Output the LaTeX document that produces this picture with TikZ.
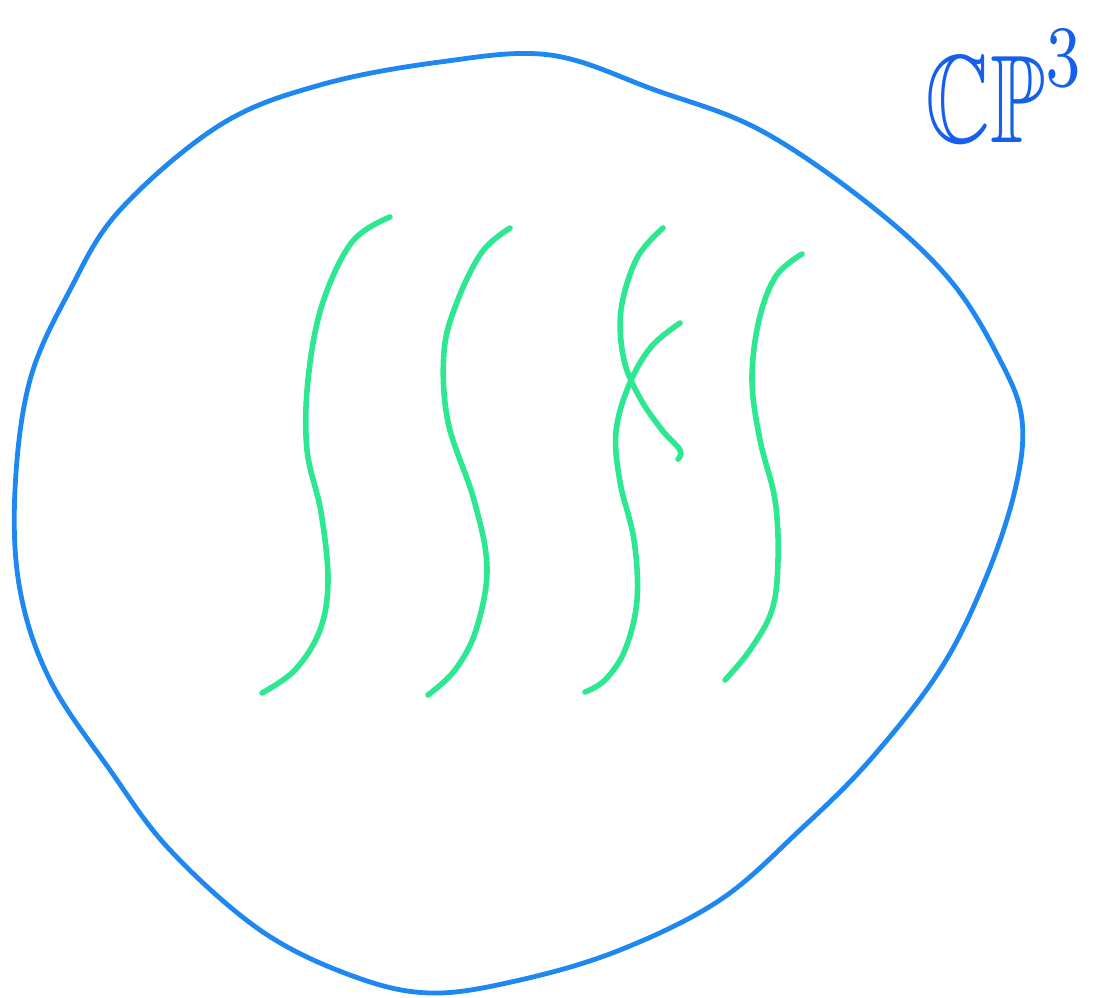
\documentclass[tikz,border=0pt]{standalone}
\usepackage{amssymb}
\usepackage{graphicx}
\definecolor{rimblue}{RGB}{30,135,240}
\definecolor{labelblue}{RGB}{20,95,235}
\definecolor{curvegreen}{RGB}{45,232,145}
\begin{document}
\begin{tikzpicture}[x=1pt,y=-1pt,
  rim/.style={draw=rimblue,line width=4.8pt,line cap=round,line join=round},
  fibre/.style={draw=curvegreen,line width=5.6pt,line cap=round,line join=round}]
\useasboundingbox (0,0) rectangle (1100,997);
% outer blob
\draw[rim] plot[smooth cycle,tension=0.6] coordinates {
 (440,62) (550,55) (655,90) (760,130) (870,205) (950,280) (1000,360) (1022,420)
 (1015,490) (985,580) (940,670) (870,760) (800,830) (720,900) (620,950) (520,980)
 (430,993) (350,975) (260,930) (170,850) (110,770) (50,680) (20,590) (15,490)
 (30,380) (70,290) (120,210) (220,125) (320,85)};
% fibres
\draw[fibre] plot[smooth,tension=0.6] coordinates {
 (390,217) (352,242) (322,305) (308,380) (307,450) (321,512) (328,580) (320,630) (295,670) (262,693)};
\draw[fibre] plot[smooth,tension=0.6] coordinates {
 (510,228) (482,252) (457,302) (444,352) (448,422) (474,500) (487,568) (476,630) (455,670) (428,695)};
\draw[fibre] plot[smooth,tension=0.6] coordinates {
 (663,228) (637,258) (621,310) (624,360) (640,398) (662,430) (680,450) (678,459)};
\draw[fibre] plot[smooth,tension=0.6] coordinates {
 (680,323) (651,347) (629,385) (616,432) (620,482) (634,540) (637,600) (625,650) (605,680) (585,692)};
\draw[fibre] plot[smooth,tension=0.6] coordinates {
 (802,254) (776,276) (759,320) (752,380) (760,440) (775,500) (778,560) (772,610) (750,650) (725,680)};
% label
\node[text=labelblue,anchor=base west,inner sep=0pt] (lbl) at (925,142) {\scalebox{9}[12.5]{$\mathbb{CP}^{3}$}};
\end{tikzpicture}
\end{document}
